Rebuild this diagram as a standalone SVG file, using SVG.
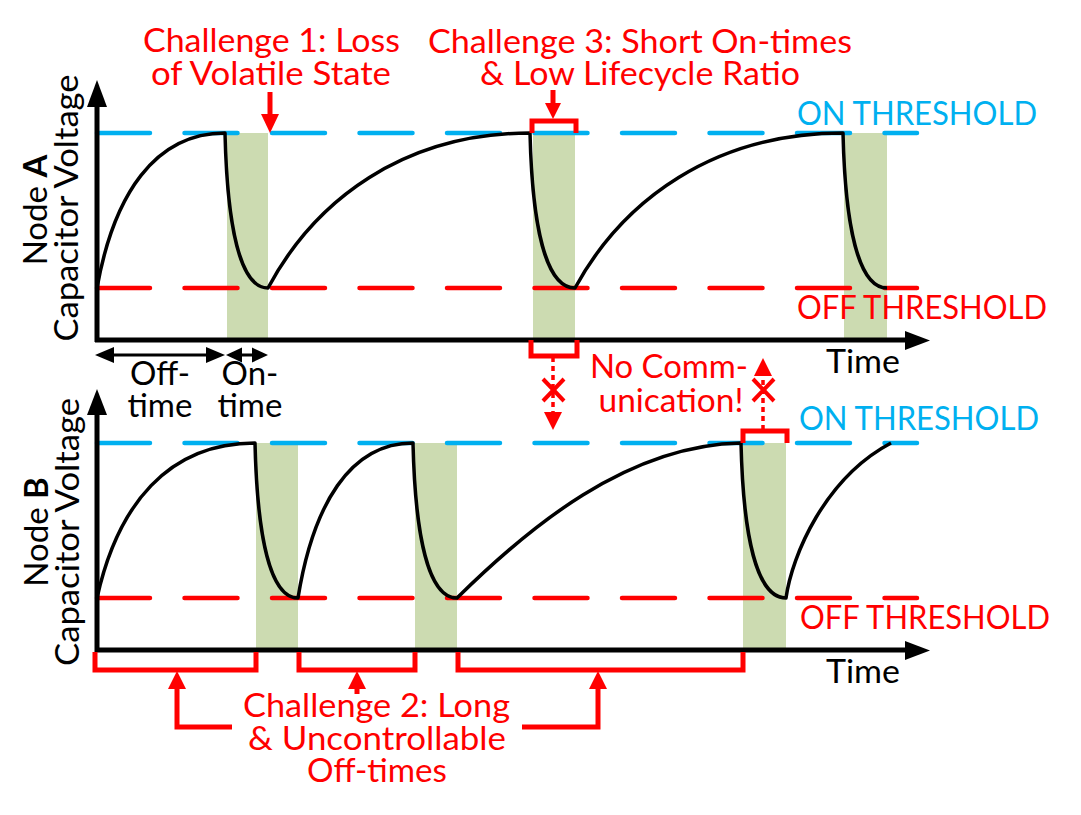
<svg xmlns="http://www.w3.org/2000/svg" width="1081" height="815" viewBox="0 0 1081 815">
<style>
text{font-family:Lato,"Liberation Sans",sans-serif;font-size:33px}
.r{fill:#FF0000}.b{fill:#00B0F0}.k{fill:#000}
.on{fill:#CCDBB1}
.thb{stroke:#00B0F0;stroke-width:4.5;stroke-dasharray:53 34.5;stroke-linecap:round;fill:none}
.thr{stroke:#FF0000;stroke-width:4.5;stroke-dasharray:53 34.5;stroke-linecap:round;fill:none}
.ax{stroke:#000;stroke-width:5;fill:none}
.cv{stroke:#000;stroke-width:3.5;fill:none;stroke-linejoin:round}
.rl{stroke:#FF0000;stroke-width:5;fill:none}
.rd{stroke:#FF0000;stroke-width:3.5;fill:none;stroke-dasharray:5 4}
.rx{stroke:#FF0000;stroke-width:4;fill:none}
.bl{stroke:#000;stroke-width:3;fill:none}
</style>
<g id="plotA">
<rect class="on" x="227" y="133" width="41" height="207"/>
<rect class="on" x="533" y="133" width="42" height="207"/>
<rect class="on" x="844" y="133" width="43" height="207"/>
<path class="thb" d="M97,133H917"/>
<path class="thr" d="M97,288H917"/>
<path class="cv" d="M97,288C113.6,195 154.6,133 225,133C227.2,226 240,288 268,288C315,200 404,133 530,133C532.2,226 545.8,288 575,288C623,200 714,133 843,133C845.2,226 858.4,288 887,288"/>
<path class="ax" d="M97,342V104M95,340H907"/>
<polygon class="k" points="87,107 107,107 97,80"/>
<polygon class="k" points="905,331 905,350 930,340.5"/>
<text class="b" x="797" y="125" textLength="240" lengthAdjust="spacingAndGlyphs">ON THRESHOLD</text>
<text class="r" x="797" y="319" textLength="250" lengthAdjust="spacingAndGlyphs">OFF THRESHOLD</text>
<text class="k" x="826" y="373" textLength="74" lengthAdjust="spacingAndGlyphs">Time</text>
<text class="k" transform="translate(47,210) rotate(-90)" text-anchor="middle">Node <tspan font-weight="bold">A</tspan></text>
<text class="k" transform="translate(78,208) rotate(-90)" text-anchor="middle" textLength="267" lengthAdjust="spacingAndGlyphs">Capacitor Voltage</text>
</g>
<g id="plotB">
<rect class="on" x="256" y="443" width="42" height="207"/>
<rect class="on" x="415" y="443" width="42" height="207"/>
<rect class="on" x="743" y="443" width="43" height="207"/>
<path class="thb" d="M97,443H917"/>
<path class="thr" d="M97,598H917"/>
<path class="cv" d="M97,598C117.5,505 168,443 255,443C257.2,536 270,598 298,598C313,505 349.8,443 413,443C415.2,536 428.4,598 457,598C528,528 627,445 741,443C743.2,536 756.8,598 786,598C792,555 825,478 891,443"/>
<path class="ax" d="M97,652V412M95,650H907"/>
<polygon class="k" points="87,415 107,415 97,389"/>
<polygon class="k" points="905,641 905,660 930,650.5"/>
<text class="b" x="799" y="430" textLength="240" lengthAdjust="spacingAndGlyphs">ON THRESHOLD</text>
<text class="r" x="800" y="629" textLength="250" lengthAdjust="spacingAndGlyphs">OFF THRESHOLD</text>
<text class="k" x="826" y="683" textLength="74" lengthAdjust="spacingAndGlyphs">Time</text>
<text class="k" transform="translate(48,532) rotate(-90)" text-anchor="middle">Node <tspan font-weight="bold">B</tspan></text>
<text class="k" transform="translate(79,532) rotate(-90)" text-anchor="middle" textLength="268" lengthAdjust="spacingAndGlyphs">Capacitor Voltage</text>
</g>
<g id="offon">
<path class="bl" d="M110,355H210M240,355H254"/>
<polygon class="k" points="95,355 114,347 114,363"/>
<polygon class="k" points="225,355 206,347 206,363"/>
<polygon class="k" points="226,355 242,347.5 242,362.5"/>
<polygon class="k" points="268,355 252,347.5 252,362.5"/>
<text class="k" x="160" y="385" text-anchor="middle">Off-</text>
<text class="k" x="160" y="417" text-anchor="middle">time</text>
<text class="k" x="250" y="385" text-anchor="middle">On-</text>
<text class="k" x="250" y="417" text-anchor="middle">time</text>
</g>
<g id="challenge1">
<text class="r" x="271.5" y="52" text-anchor="middle" textLength="257" lengthAdjust="spacingAndGlyphs">Challenge 1: Loss</text>
<text class="r" x="271" y="85" text-anchor="middle" textLength="240" lengthAdjust="spacingAndGlyphs">of Volatile State</text>
<path class="rl" d="M270,92V116"/>
<polygon class="r" points="261,114 279,114 270,133"/>
</g>
<g id="challenge3">
<text class="r" x="640" y="53" text-anchor="middle" textLength="424" lengthAdjust="spacingAndGlyphs">Challenge 3: Short On-times</text>
<text class="r" x="640" y="85" text-anchor="middle" textLength="320" lengthAdjust="spacingAndGlyphs">&amp; Low Lifecycle Ratio</text>
<path class="rl" d="M553,90V105"/>
<polygon class="r" points="545,103 561,103 553,119"/>
<path class="rl" d="M532,133V121H576V133"/>
</g>
<g id="nocomm">
<path class="rl" d="M531,340V356H577V340"/>
<path class="rd" d="M553,357V413"/>
<polygon class="r" points="544,412 562,412 553,430"/>
<path class="rx" d="M543,379L564,401M564,379L543,401"/>
<path class="rl" d="M743,443V431H787V443"/>
<path class="rd" d="M763,430V375"/>
<polygon class="r" points="754,376 772,376 763,358"/>
<path class="rx" d="M753,379L774,401M774,379L753,401"/>
<text class="r" x="669" y="378" text-anchor="middle" textLength="158" lengthAdjust="spacingAndGlyphs">No Comm-</text>
<text class="r" x="671" y="412" text-anchor="middle" textLength="145" lengthAdjust="spacingAndGlyphs">unication!</text>
</g>
<g id="challenge2">
<path class="rl" d="M95,652V670H256V652M299,652V670H415V652M458,652V670H743V652"/>
<path class="rl" d="M177,686V727H232M357,686V694M598,686V727H522"/>
<polygon class="r" points="168,689 186,689 177,671"/>
<polygon class="r" points="348,689 366,689 357,671"/>
<polygon class="r" points="589,689 607,689 598,671"/>
<text class="r" x="376.5" y="717" text-anchor="middle" textLength="267" lengthAdjust="spacingAndGlyphs">Challenge 2: Long</text>
<text class="r" x="377" y="750" text-anchor="middle" textLength="258" lengthAdjust="spacingAndGlyphs">&amp; Uncontrollable</text>
<text class="r" x="377" y="782" text-anchor="middle" textLength="140" lengthAdjust="spacingAndGlyphs">Off-times</text>
</g>
</svg>
